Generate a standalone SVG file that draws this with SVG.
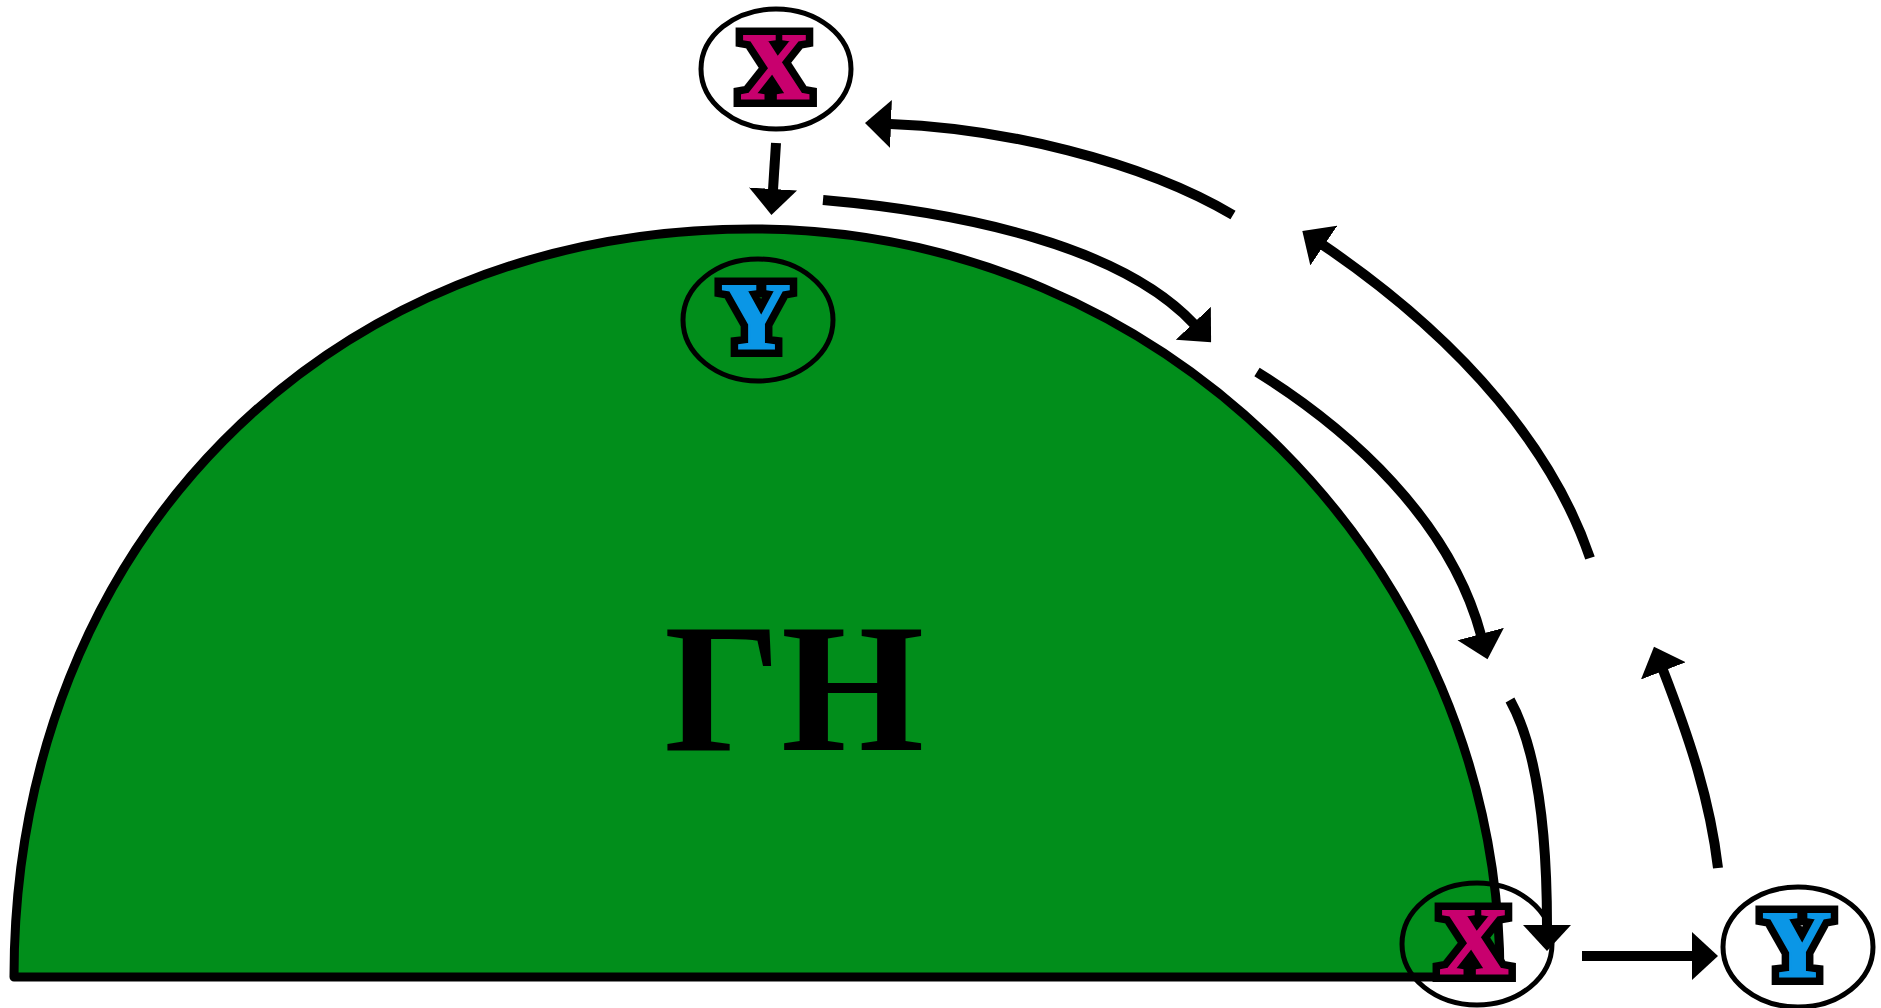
<svg xmlns="http://www.w3.org/2000/svg" width="1881" height="1008" viewBox="0 0 1881 1008">
<style>
.ring{fill:none;stroke:#000;stroke-width:5}
.lt{font-family:"Liberation Serif","Times New Roman",serif;font-weight:bold;text-anchor:middle;font-size:96px}
.lo{fill:#000;stroke:#000;stroke-width:17;stroke-linejoin:miter}
.x{fill:#C8006E;stroke:#C8006E;stroke-width:2}
.y{fill:#0A96E6;stroke:#0A96E6;stroke-width:2}
.con{fill:none;stroke:#000;stroke-width:10}
</style>
<defs>
<marker id="ah" markerUnits="userSpaceOnUse" markerWidth="27" markerHeight="50" refX="1" refY="25" orient="auto" viewBox="0 0 27 50">
<path d="M0,1 L26,25 L0,49 Z" fill="#000"/>
</marker>
</defs>
<rect width="1881" height="1008" fill="#fff"/>
<g id="dome">
<path d="M14,977 C14,545 326,229 752,229 C1165,229 1500,566 1500,977 Z" fill="#018E1B" stroke="#000" stroke-width="9" stroke-linejoin="round"/>
<text x="794" y="750" font-family="'Liberation Serif', 'Times New Roman', serif" font-weight="bold" font-size="184" text-anchor="middle" fill="#000">ГН</text>
</g>
<g id="node-x-top">
<ellipse class="ring" cx="776" cy="69" rx="75" ry="60"/>
<text class="lt lo" x="775" y="99" font-weight="bold">X</text>
<text class="lt x" x="775" y="99" font-weight="bold">X</text>
</g>
<g id="node-y-dome">
<ellipse class="ring" cx="758" cy="320" rx="75" ry="61"/>
<text class="lt lo" x="756" y="349" font-weight="bold">Y</text>
<text class="lt y" x="756" y="349" font-weight="bold">Y</text>
</g>
<g id="node-x-bottom">
<ellipse class="ring" cx="1477" cy="944" rx="75" ry="61"/>
<text class="lt lo" x="1474" y="974" font-weight="bold">X</text>
<text class="lt x" x="1474" y="974" font-weight="bold">X</text>
</g>
<g id="node-y-bottom">
<ellipse class="ring" cx="1798" cy="947" rx="75" ry="60"/>
<text class="lt lo" x="1797" y="977" font-weight="bold">Y</text>
<text class="lt y" x="1797" y="977" font-weight="bold">Y</text>
</g>
<g id="connectors">
<path class="con" d="M776,143 L773,190" marker-end="url(#ah)"/>
<path class="con" d="M1233,215 C1140,160 1000,128 890,124" marker-end="url(#ah)"/>
<path class="con" d="M823,200 C960,212 1120,245 1194,324" marker-end="url(#ah)"/>
<path class="con" d="M1257,372 C1350,430 1450,520 1481,635" marker-end="url(#ah)"/>
<path class="con" d="M1510,700 C1535,745 1547,820 1547,926" marker-end="url(#ah)"/>
<path class="con" d="M1582,956 L1693,956" marker-end="url(#ah)"/>
<path class="con" d="M1718,868 C1710,800 1690,740 1663,670" marker-end="url(#ah)"/>
<path class="con" d="M1590,558 C1555,455 1470,345 1323,245" marker-end="url(#ah)"/>
</g>
</svg>
